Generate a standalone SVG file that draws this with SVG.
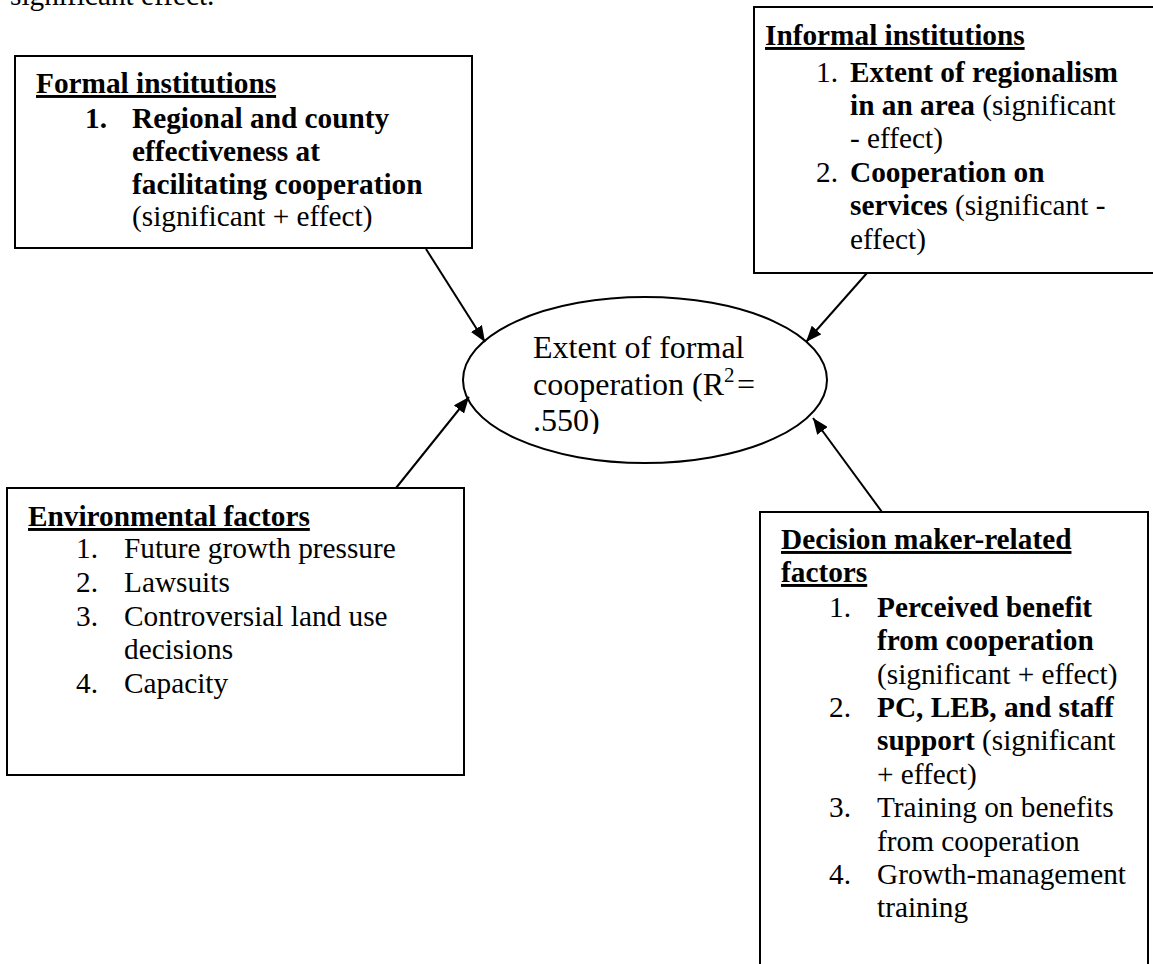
<svg xmlns="http://www.w3.org/2000/svg" width="1153" height="964" viewBox="0 0 1153 964">
<style>
text{font-family:"Liberation Serif","Times New Roman",serif;font-size:29.3px;fill:#000}
.b{font-weight:bold}
.u{font-weight:bold;text-decoration:underline}
.box{fill:#fff;stroke:#000;stroke-width:2}
.conn line{stroke:#000;stroke-width:2;marker-end:url(#arr)}
.ell text{font-size:32px}
</style>
<defs>
<marker id="arr" markerUnits="userSpaceOnUse" markerWidth="17" markerHeight="13" refX="16" refY="6.5" orient="auto">
<path d="M0,0 L16,6.5 L0,13 z" fill="#000"/>
</marker>
<clipPath id="ellclip"><rect x="460" y="290" width="380" height="144"/></clipPath>
</defs>
<rect width="1153" height="964" fill="#fff"/>
<text x="10" y="5">significant effect.</text>

<g id="formal">
<rect class="box" x="15" y="56" width="457" height="192"/>
<text x="36" y="93" class="u">Formal institutions</text>
<text x="85" y="128" class="b">1.</text>
<text x="132" y="128" class="b">Regional and county</text>
<text x="132" y="161" class="b">effectiveness at</text>
<text x="132" y="194" class="b">facilitating cooperation</text>
<text x="132" y="226">(significant + effect)</text>
</g>

<g id="informal">
<rect class="box" x="754" y="7" width="420" height="266"/>
<text x="765" y="45" class="u">Informal institutions</text>
<text x="816" y="82">1.</text>
<text x="850" y="82" class="b">Extent of regionalism</text>
<text x="850" y="115"><tspan class="b">in an area</tspan> (significant</text>
<text x="850" y="148">- effect)</text>
<text x="816" y="182">2.</text>
<text x="850" y="182" class="b">Cooperation on</text>
<text x="850" y="215"><tspan class="b">services</tspan> (significant -</text>
<text x="850" y="249">effect)</text>
</g>

<g id="environmental">
<rect class="box" x="7" y="488" width="457" height="287"/>
<text x="28" y="526" class="u">Environmental factors</text>
<text x="76" y="558">1.</text>
<text x="124" y="558">Future growth pressure</text>
<text x="76" y="592">2.</text>
<text x="124" y="592">Lawsuits</text>
<text x="76" y="626">3.</text>
<text x="124" y="626">Controversial land use</text>
<text x="124" y="659">decisions</text>
<text x="76" y="693">4.</text>
<text x="124" y="693">Capacity</text>
</g>

<g id="decision">
<rect class="box" x="760" y="512" width="388" height="500"/>
<text x="781" y="549" class="u">Decision maker-related</text>
<text x="781" y="582" class="u">factors</text>
<text x="829" y="617">1.</text>
<text x="877" y="617" class="b">Perceived benefit</text>
<text x="877" y="650" class="b">from cooperation</text>
<text x="877" y="684">(significant + effect)</text>
<text x="829" y="717">2.</text>
<text x="877" y="717" class="b">PC, LEB, and staff</text>
<text x="877" y="750"><tspan class="b">support</tspan> (significant</text>
<text x="877" y="784">+ effect)</text>
<text x="829" y="817">3.</text>
<text x="877" y="817">Training on benefits</text>
<text x="877" y="851">from cooperation</text>
<text x="829" y="884">4.</text>
<text x="877" y="884">Growth-management</text>
<text x="877" y="917">training</text>
</g>

<g id="outcome" class="ell">
<ellipse cx="645" cy="380" rx="182" ry="83" fill="#fff" stroke="#000" stroke-width="2"/>
<g clip-path="url(#ellclip)">
<text x="533" y="358">Extent of formal</text>
<text x="533" y="395">cooperation (R<tspan font-size="21px" dy="-13">2</tspan></text>
<text x="737" y="395">=</text>
<text x="533" y="431">.550)</text>
</g>
</g>

<g id="connectors" class="conn">
<line x1="426" y1="249" x2="485" y2="342"/>
<line x1="867" y1="273" x2="806" y2="342"/>
<line x1="396" y1="488" x2="469" y2="397"/>
<line x1="882" y1="512" x2="813" y2="418"/>
</g>
</svg>
